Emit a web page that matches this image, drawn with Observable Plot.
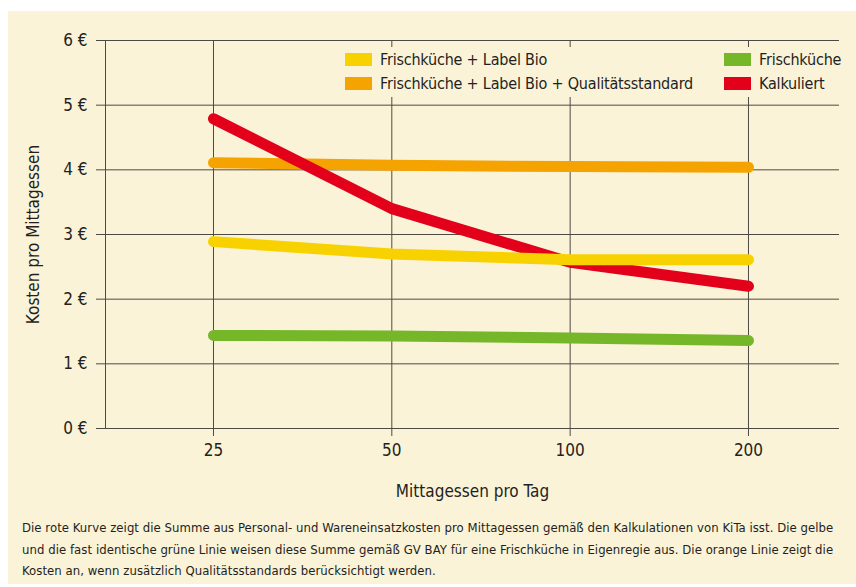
<!DOCTYPE html>
<html>
<head>
<meta charset="utf-8">
<script src="https://cdn.jsdelivr.net/npm/d3@7"></script>
<script src="https://cdn.jsdelivr.net/npm/@observablehq/plot@0.6"></script>
<style>
  html, body { margin: 0; padding: 0; background: #ffffff; }
  body { width: 856px; height: 587px; position: relative; overflow: hidden;
         font-family: "DejaVu Sans Condensed", sans-serif; color: #231f20; }
  #panel { position: absolute; left: 8px; top: 11px; width: 848px; height: 573px; background: #fbf3d8; }
  #chart { position: absolute; left: 0; top: 0; }
  #legend { position: absolute; left: 327px; top: 36px; width: 510px; height: 50px; background: #fbf3d8; }
  .item { position: absolute; display: flex; align-items: center; font-size: 16px; letter-spacing: -0.2px; white-space: nowrap; }
  .sw { width: 27px; height: 13px; margin-right: 8px; }
  #caption { position: absolute; left: 14px; top: 506px; font-size: 13px; letter-spacing: 0.05px; line-height: 21.5px; white-space: nowrap; }
</style>
</head>
<body>
<div id="panel">
  <div id="chart"></div>
  <div id="legend"></div>
  <div id="caption"></div>
</div>
<script>
// ---- data ----
const mealsPerDay = [25, 50, 100, 200];
const seriesNames = [
  "Frischküche + Label Bio",
  "Frischküche + Label Bio + Qualitätsstandard",
  "Frischküche",
  "Kalkuliert"
];
const seriesColors = ["#f8d200", "#f5a300", "#76b72a", "#e2001a"];
const frischLabelBio     = [2.89, 2.70, 2.61, 2.61];
const frischLabelBioQual = [4.11, 4.07, 4.05, 4.04];
const frischkueche       = [1.44, 1.43, 1.40, 1.36];
const kalkuliert         = [4.79, 3.40, 2.57, 2.20];
const yTicks = [0, 1, 2, 3, 4, 5, 6];
const yLabel = "Kosten pro Mittagessen";
const xLabel = "Mittagessen pro Tag";
const captionLines = [
  "Die rote Kurve zeigt die Summe aus Personal- und Wareneinsatzkosten pro Mittagessen gemäß den Kalkulationen von KiTa isst. Die gelbe",
  "und die fast identische grüne Linie weisen diese Summe gemäß GV BAY für eine Frischküche in Eigenregie aus. Die orange Linie zeigt die",
  "Kosten an, wenn zusätzlich Qualitätsstandards berücksichtigt werden."
];

// ---- table ----
const valuesBySeries = [frischLabelBio, frischLabelBioQual, frischkueche, kalkuliert];
const drawOrder = [1, 3, 0, 2];
const rows = [];
for (const s of drawOrder) {
  mealsPerDay.forEach((m, i) => rows.push({series: seriesNames[s], meals: m, cost: valuesBySeries[s][i], color: seriesColors[s]}));
}

const font = '"DejaVu Sans Condensed", sans-serif';
const gridColor = "#4d4a45";

const chart = Plot.plot({
  width: 848,
  height: 500,
  marginTop: 29,
  marginBottom: 83,
  marginLeft: 97,
  marginRight: 17,
  style: {background: "transparent", fontFamily: font, fontSize: "16px", color: "#231f20"},
  x: {type: "log", domain: [16.43, 284.9]},
  y: {domain: [0, 6]},
  marks: [
    Plot.ruleY(yTicks, {stroke: gridColor, strokeWidth: 1, strokeOpacity: 1}),
    Plot.ruleX(mealsPerDay, {stroke: gridColor, strokeWidth: 1, strokeOpacity: 1}),
    Plot.frame({anchor: "left", stroke: gridColor, strokeWidth: 1}),
    Plot.axisY({ticks: yTicks, tickFormat: d => d + " €", tickSize: 9, tickPadding: 9,
                stroke: gridColor, strokeOpacity: 1, fontSize: 17,
                label: yLabel, labelAnchor: "center", labelArrow: "none", labelOffset: 79}),
    Plot.axisX({ticks: mealsPerDay, tickFormat: d => String(d), tickSize: 8, tickPadding: 7,
                stroke: gridColor, strokeOpacity: 1, fontSize: 17,
                label: xLabel, labelAnchor: "center", labelArrow: "none", labelOffset: 68}),
    Plot.line(rows, {x: "meals", y: "cost", z: "series", stroke: "color",
                     strokeWidth: 11, strokeLinecap: "round", strokeLinejoin: "round",
                     curve: "linear", strokeOpacity: 1})
  ]
});
document.getElementById("chart").appendChild(chart);

// ---- legend ----
const legend = document.getElementById("legend");
const legendPos = [[10, 7], [10, 31], [389, 7], [389, 31]];
seriesNames.forEach((name, i) => {
  const it = document.createElement("div");
  it.className = "item";
  it.style.left = legendPos[i][0] + "px";
  it.style.top = (legendPos[i][1] - 4) + "px";
  const sw = document.createElement("div");
  sw.className = "sw";
  sw.style.background = seriesColors[i];
  const tx = document.createElement("span");
  tx.textContent = name;
  it.appendChild(sw); it.appendChild(tx);
  legend.appendChild(it);
});

// ---- caption ----
const cap = document.getElementById("caption");
cap.innerHTML = captionLines.map(l => l.replace(/&/g, "&amp;")).join("<br>");
</script>
</body>
</html>
